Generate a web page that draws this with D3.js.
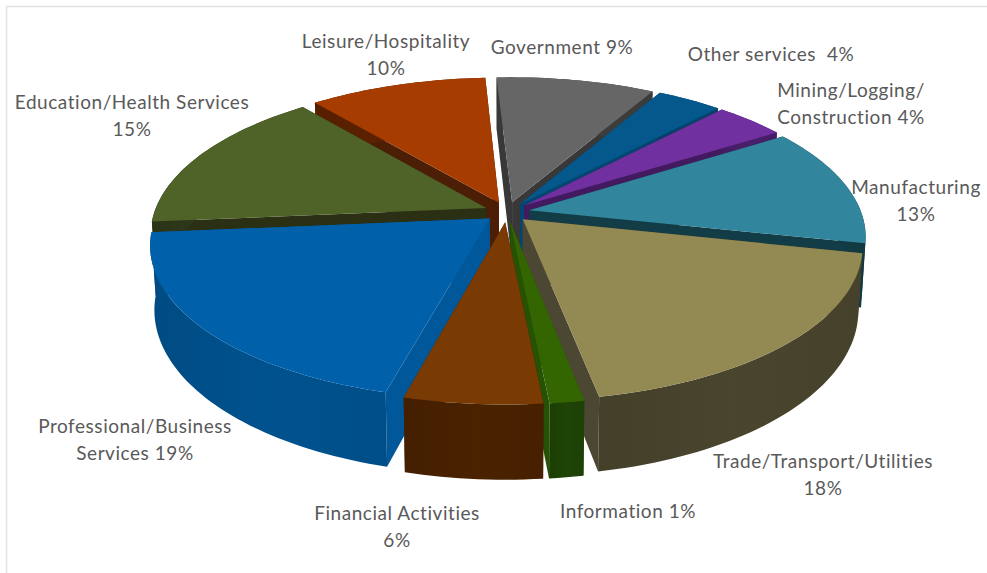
<!DOCTYPE html>
<html>
<head>
<meta charset="utf-8">
<script src="https://cdn.jsdelivr.net/npm/d3@7"></script>
<style>
  html, body { margin: 0; padding: 0; background: #fff; overflow: hidden; }
  text { font-family: Lato, "Open Sans", sans-serif; font-size: 19px; letter-spacing: 0.55px; fill: #595959; }
</style>
</head>
<body>
<div id="chart"></div>
<script>
const categories = ["Government", "Other services", "Mining/Logging/Construction", "Manufacturing",
  "Trade/Transport/Utilities", "Information", "Financial Activities",
  "Professional/Business Services", "Education/Health Services", "Leisure/Hospitality"]
// shares, labels round them
const shares = [9, 3.7, 4, 12.6, 18.6, 1.4, 5.6, 19.5, 15.5, 10.1]
const topColors = ["#666666", "#04588c", "#7030a0", "#31859c", "#938953", "#336600", "#7a3a03", "#0061aa", "#4f6228", "#a63c00"]
const wallColors = ["#3e3e3e", "#03456e", "#4a1f6c", "#123c46", "#4a452d", "#1f4406", "#4a2200", "#00528f", "#30391a", "#5e2200"]
const cutColors = ["#383838", "#03466f", "#43195f", "#123c46", "#4c4733", "#265204", "#3c1c02", "#00589a", "#2b2f14", "#4c1e05"]
const labelLines = [
  ["Government 9%"], ["Other services  4%"], ["Mining/Logging/", "Construction 4%"], ["Manufacturing", "13%"],
  ["Trade/Transport/Utilities", "18%"], ["Information 1%"], ["Financial Activities", "6%"],
  ["Professional/Business", "Services 19%"], ["Education/Health Services", "15%"], ["Leisure/Hospitality", "10%"]]
const labelAnchors = [[562, 54], [771, 61], [851, 97], [916, 194], [823, 468], [628, 518], [397, 520], [135, 433], [132, 109], [386, 48]]

const W = 987, H = 573
const cx = 507, cy = 212, halfW = 352, halfH = 157.5, persp = 0.175
const radius = 0.943, explode = 0.064, depth = 62
const lineGap = 27

const svg = d3.select("#chart").append("svg")
  .attr("width", W).attr("height", H)

// frame of the pasted chart, only top and left show
svg.append("path")
  .attr("d", "M6.5," + H + "V6.5H" + W)
  .attr("fill", "none").attr("stroke", "#e2e2e2").attr("stroke-width", 1.5)

const sx = d3.scaleLinear().domain([-1, 1]).range([cx - halfW, cx + halfW])
const sy = d3.scaleLinear().domain([-1, 1]).range([cy + halfH, cy - halfH])

// ground point to screen, z = 0 is the top face and z = 1 the bottom edge
const project = (X, Y, z) => {
  const s = 1 / (1 + persp * Y)
  const shrink = 1 - 0.012 * z
  return [sx(X * s * shrink), sy(Y * s) + z * depth * s]
}

const pie = d3.pie().sort(null).value(d => d)
  .startAngle(-3 * Math.PI / 180).endAngle(357 * Math.PI / 180)
const arcs = pie(shares).map((a, i) => {
  const mid = (a.startAngle + a.endAngle) / 2
  return {...a, i, mid, ox: explode * Math.sin(mid), oy: explode * Math.cos(mid)}
})

const line = d3.line()
const defs = svg.append("defs")

const rim = (d, z, reverse) => {
  const n = Math.max(4, Math.ceil((d.endAngle - d.startAngle) * 40))
  const pts = d3.range(n + 1).map(k => {
    const t = d.startAngle + (d.endAngle - d.startAngle) * k / n
    return project(d.ox + radius * Math.sin(t), d.oy + radius * Math.cos(t), z)
  })
  return reverse ? pts.reverse() : pts
}

const cutFace = (d, angle) => {
  const ox = d.ox + radius * Math.sin(angle), oy = d.oy + radius * Math.cos(angle)
  return line([project(d.ox, d.oy, 0), project(ox, oy, 0), project(ox, oy, 1), project(d.ox, d.oy, 1)]) + "Z"
}

// painter's order, back wedges first
const order = arcs.slice().sort((a, b) => b.oy - a.oy)

const slice = svg.append("g").selectAll("g.slice")
  .data(order)
  .enter().append("g")
  .attr("class", "slice")

slice.append("path").attr("d", d => cutFace(d, d.startAngle)).attr("fill", d => cutColors[d.i])
slice.append("path").attr("d", d => cutFace(d, d.endAngle)).attr("fill", d => cutColors[d.i])

slice.each(d => {
  const xs = rim(d, 0).map(p => p[0])
  const base = d3.color(wallColors[d.i])
  const g = defs.append("linearGradient")
    .attr("id", "wall" + d.i)
    .attr("gradientUnits", "userSpaceOnUse")
    .attr("x1", d3.min(xs)).attr("x2", d3.max(xs)).attr("y1", 0).attr("y2", 0)
  g.append("stop").attr("offset", 0).attr("stop-color", base.darker(0.25))
  g.append("stop").attr("offset", 0.5).attr("stop-color", base)
  g.append("stop").attr("offset", 1).attr("stop-color", base.darker(0.15))
})

slice.append("path")
  .attr("d", d => line(rim(d, 0).concat(rim(d, 1, true))) + "Z")
  .attr("fill", d => "url(#wall" + d.i + ")")

slice.append("path")
  .attr("d", d => line([project(d.ox, d.oy, 0)].concat(rim(d, 0))) + "Z")
  .attr("fill", d => topColors[d.i])

const label = svg.append("g").selectAll("text")
  .data(labelLines)
  .enter().append("text")
  .attr("text-anchor", "middle")
  .attr("transform", (d, i) => "translate(" + labelAnchors[i][0] + "," + labelAnchors[i][1] + ")")

label.selectAll("tspan")
  .data(d => d)
  .enter().append("tspan")
  .attr("x", 0)
  .attr("y", (d, i) => i * lineGap)
  .style("white-space", "pre")
  .text(d => d)
</script>
</body>
</html>
